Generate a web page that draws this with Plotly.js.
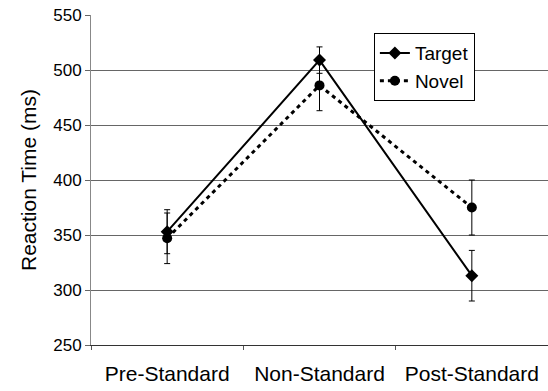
<!DOCTYPE html>
<html>
<head>
<meta charset="utf-8">
<script src="https://cdn.plot.ly/plotly-3.0.1.min.js"></script>
<style>html,body{margin:0;padding:0;background:#fff;}#chart{width:548px;height:391px;}</style>
</head>
<body>
<div id="chart"></div>
<script>
const categories = ["Pre-Standard", "Non-Standard", "Post-Standard"];
const targetRT = [353, 509, 313];
const targetErr = [20, 12, 23];
const novelRT = [347, 486, 375];
const novelErr = [23, 23, 25];
const yTicks = [250, 300, 350, 400, 450, 500, 550];

const font = "Liberation Sans, Arial, sans-serif";

const traces = [
  {
    x: categories, y: targetRT, name: "Target", type: "scatter", mode: "lines+markers",
    line: {color: "#000", width: 2},
    marker: {symbol: "diamond", size: 10, color: "#000"},
    error_y: {type: "data", array: targetErr, visible: true, color: "#000", thickness: 1, width: 3}
  },
  {
    x: categories, y: novelRT, name: "Novel", type: "scatter", mode: "lines+markers",
    line: {color: "#000", width: 3, dash: "4px,4px"},
    marker: {symbol: "circle", size: 10, color: "#000"},
    error_y: {type: "data", array: novelErr, visible: true, color: "#000", thickness: 1, width: 3}
  }
];

const layout = {
  width: 548, height: 391,
  margin: {l: 91, r: 0, t: 15, b: 46},
  paper_bgcolor: "#fff", plot_bgcolor: "#fff",
  font: {family: font, color: "#000"},
  showlegend: true,
  legend: {
    x: 0.619, y: 0.945, xanchor: "left", yanchor: "top",
    bgcolor: "#fff", bordercolor: "#000", borderwidth: 1,
    font: {size: 19, family: font, color: "#000"},
    tracegroupgap: 0, itemwidth: 30
  },
  xaxis: {
    type: "category", tickson: "boundaries", ticks: "outside", ticklen: 4, tickcolor: "#555",
    showline: true, linecolor: "#333", linewidth: 1, showgrid: false,
    tickfont: {size: 21, family: font, color: "#000"},
    ticklabelstandoff: 10,
    range: [-0.5, 2.5], fixedrange: true
  },
  yaxis: {
    range: [250, 550], tickvals: yTicks, ticktext: yTicks.map(String),
    ticks: "outside", ticklen: 5, tickcolor: "#666",
    showline: true, linecolor: "#888", linewidth: 1,
    showgrid: true, gridcolor: "#666", gridwidth: 1, zeroline: false,
    tickfont: {size: 17, family: font, color: "#000"},
    title: {text: "Reaction Time (ms)", font: {size: 21, family: font, color: "#000"}, standoff: 10}
  }
};

Plotly.newPlot("chart", traces, layout, {displayModeBar: false, staticPlot: true});
</script>
</body>
</html>
